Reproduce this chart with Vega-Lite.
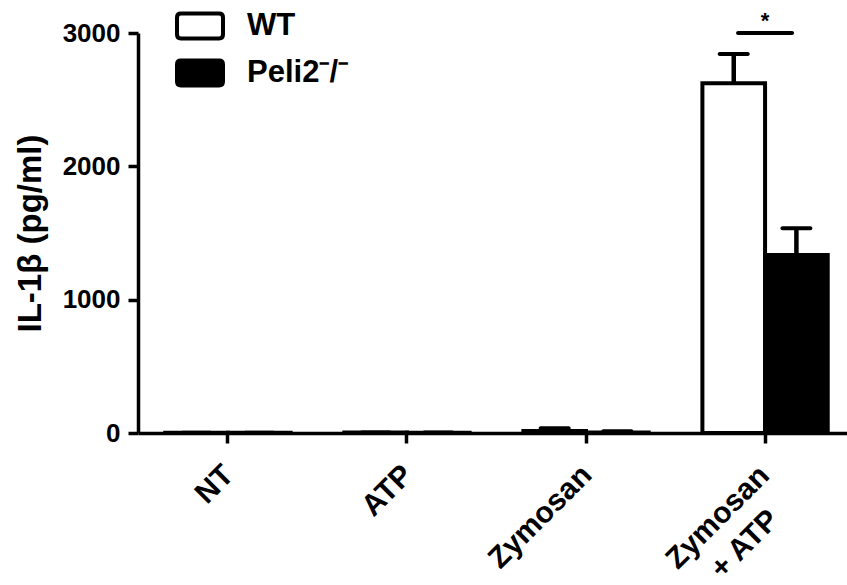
{
  "$schema": "https://vega.github.io/schema/vega-lite/v6.json",
  "width": 709,
  "height": 400,
  "autosize": "none",
  "padding": {"left": 138, "top": 33, "right": 0, "bottom": 152},
  "background": "white",
  "config": {
    "view": {"stroke": null},
    "font": "Liberation Sans",
    "axis": {"domainColor": "black", "tickColor": "black", "labelColor": "black", "titleColor": "black", "labelFont": "Liberation Sans", "titleFont": "Liberation Sans", "labelFontWeight": "bold", "titleFontWeight": "bold", "grid": false}
  },
  "datasets": {
    "bars": [
      {"treatment": "NT", "genotype": "WT", "value": 1, "upper": 1.5},
      {"treatment": "NT", "genotype": "Peli2⁻/⁻", "value": 1, "upper": 1.5},
      {"treatment": "ATP", "genotype": "WT", "value": 3, "upper": 4},
      {"treatment": "ATP", "genotype": "Peli2⁻/⁻", "value": 2, "upper": 3},
      {"treatment": "Zymosan", "genotype": "WT", "value": 15, "upper": 35},
      {"treatment": "Zymosan", "genotype": "Peli2⁻/⁻", "value": 4, "upper": 13},
      {"treatment": "Zymosan + ATP", "genotype": "WT", "value": 2623, "upper": 2843},
      {"treatment": "Zymosan + ATP", "genotype": "Peli2⁻/⁻", "value": 1335, "upper": 1535}
    ],
    "sig": [
      {"treatment": "Zymosan + ATP", "y": 3000, "ystar": 3035, "label": "*"}
    ]
  },
  "layer": [
    {
      "data": {"name": "bars"},
      "mark": {"type": "bar", "stroke": "black", "strokeWidth": 4},
      "encoding": {
        "x": {
          "field": "treatment", "type": "nominal",
          "sort": ["NT", "ATP", "Zymosan", "Zymosan + ATP"],
          "scale": {"domain": ["NT", "ATP", "Zymosan", "Zymosan + ATP"], "paddingInner": 0.3, "paddingOuter": 0.13, "align": 0.586},
          "axis": {
            "title": null, "labelAngle": -45, "labelBaseline": "middle",
            "labelAlign": {"condition": {"test": "datum.value == 'Zymosan + ATP'", "value": "center"}, "value": "right"},
            "labelOffset": {"condition": {"test": "datum.value == 'Zymosan + ATP'", "value": -47}, "value": 1},
            "labelPadding": {"condition": {"test": "datum.value == 'Zymosan + ATP'", "value": 74}, "value": 27},
            "labelFontSize": 30, "tickSize": 10, "tickWidth": 3.5, "domainWidth": 3.5,
            "labelExpr": "datum.value == 'Zymosan + ATP' ? ['Zymosan', '+ ATP'] : datum.value",
            "labelLineHeight": 38
          }
        },
        "xOffset": {"field": "genotype", "type": "nominal", "scale": {"domain": ["WT", "Peli2⁻/⁻"], "paddingInner": 0, "paddingOuter": 0}},
        "y": {
          "field": "value", "type": "quantitative",
          "scale": {"domain": [0, 3000], "nice": false},
          "axis": {
            "title": "IL-1β (pg/ml)", "titleFontSize": 33, "titlePadding": 15,
            "values": [0, 1000, 2000, 3000], "format": "d", "labelFontSize": 26, "labelPadding": 8,
            "tickSize": 10, "tickWidth": 3.5, "domainWidth": 3.5
          }
        },
        "fill": {
          "field": "genotype", "type": "nominal",
          "scale": {"domain": ["WT", "Peli2⁻/⁻"], "range": ["white", "black"]},
          "legend": {
            "orient": "none", "legendX": 37, "legendY": -32, "title": null,
            "symbolType": "M-0.83,-0.543H0.83Q1,-0.543 1,-0.373V0.373Q1,0.543 0.83,0.543H-0.83Q-1,0.543 -1,0.373V-0.373Q-1,-0.543 -0.83,-0.543Z",
            "symbolSize": 2116,
            "symbolStrokeColor": "black", "symbolStrokeWidth": 4,
            "labelFontSize": 31, "labelFont": "Liberation Sans", "labelFontWeight": "bold", "labelColor": "black",
            "labelOffset": 22, "rowPadding": 1, "padding": 0, "offset": 0
          }
        }
      }
    },
    {
      "data": {"name": "bars"},
      "mark": {"type": "rule", "color": "black", "strokeWidth": 4.5, "opacity": 1},
      "encoding": {
        "x": {"field": "treatment", "type": "nominal", "sort": ["NT", "ATP", "Zymosan", "Zymosan + ATP"]},
        "xOffset": {"field": "genotype", "type": "nominal"},
        "y": {"field": "value", "type": "quantitative"},
        "y2": {"field": "upper"}
      }
    },
    {
      "data": {"name": "bars"},
      "mark": {"type": "tick", "color": "black", "opacity": 1, "size": 32, "thickness": 4, "cornerRadius": 2},
      "encoding": {
        "x": {"field": "treatment", "type": "nominal", "sort": ["NT", "ATP", "Zymosan", "Zymosan + ATP"]},
        "xOffset": {"field": "genotype", "type": "nominal"},
        "y": {"field": "upper", "type": "quantitative"}
      }
    },
    {
      "data": {"name": "sig"},
      "mark": {"type": "tick", "color": "black", "opacity": 1, "size": 58, "thickness": 4, "cornerRadius": 2},
      "encoding": {
        "x": {"field": "treatment", "type": "nominal", "sort": ["NT", "ATP", "Zymosan", "Zymosan + ATP"]},
        "y": {"field": "y", "type": "quantitative"}
      }
    },
    {
      "data": {"name": "sig"},
      "mark": {"type": "text", "color": "black", "fontSize": 22, "fontWeight": "bold", "baseline": "alphabetic", "align": "center"},
      "encoding": {
        "x": {"field": "treatment", "type": "nominal", "sort": ["NT", "ATP", "Zymosan", "Zymosan + ATP"]},
        "y": {"field": "ystar", "type": "quantitative"},
        "text": {"field": "label"}
      }
    }
  ]
}
